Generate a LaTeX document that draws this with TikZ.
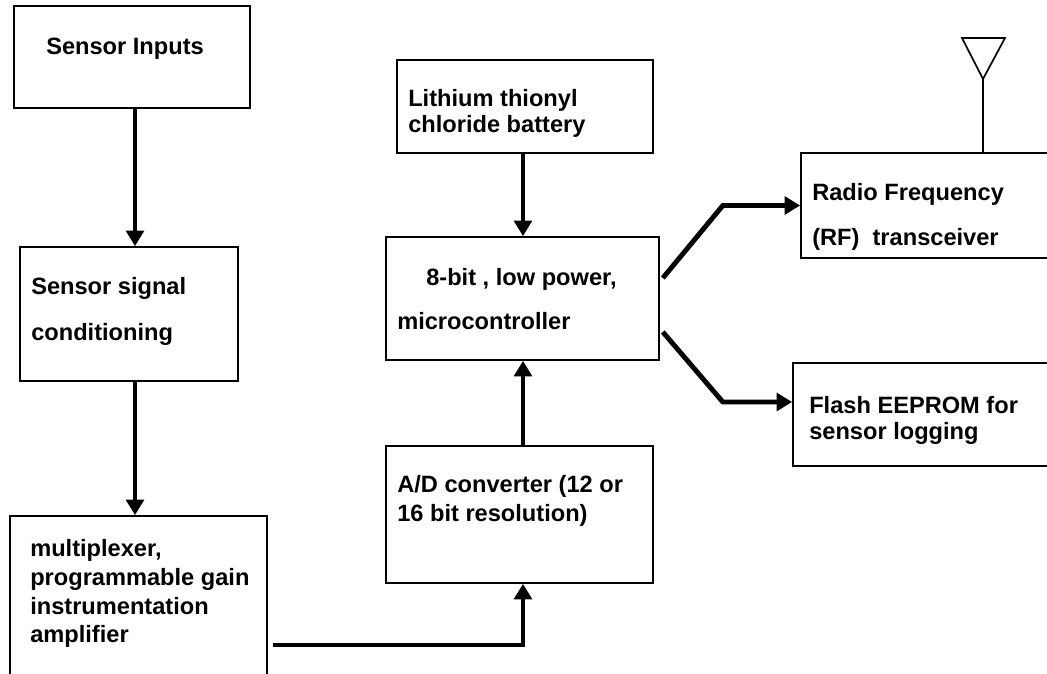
\documentclass[tikz,border=0pt]{standalone}
\usepackage{fontspec}
\setmainfont{Liberation Sans}
\usepackage{tikz}
\usetikzlibrary{arrows.meta,fit,calc}

\tikzset{
  blk/.style={draw, line width=1.2pt, inner sep=0pt},
  txt/.style={anchor=base west, align=left, inner sep=0pt, font=\bfseries},
  flow/.style={line width=3.5pt, -{Triangle[length=11pt, width=12.5pt]}},
  ant/.style={line width=1.2pt}
}

\begin{document}
\begin{tikzpicture}[x=0.025cm, y=-0.025cm]
  \fontsize{16.8pt}{19pt}\selectfont
  \useasboundingbox (0,0) rectangle (1047,674);
  \clip (0,0) rectangle (1047,674);
  \fill[white] (0,0) rectangle (1047,674);

  % ---- left column: sensor chain ----
  \node[blk, fit={(14,6) (250,108)}] (inp) {};
  \node[txt] (inp-t) at (46,55) {Sensor Inputs};
  \node[blk, fit={(20,247) (238,381)}] (cond) {};
  \node[txt] (cond-t) at (31,341) {Sensor signal\\[14.3pt]conditioning};
  \node[blk, fit={(10,516) (267,700)}] (mux) {};
  \node[txt] (mux-t) at (30,643)
    {multiplexer,\\[1.6pt]programmable gain\\[1.6pt]instrumentation\\[1.6pt]amplifier};

  % ---- middle column: power, converter, controller ----
  \node[blk, fit={(397,60) (653,153)}] (bat) {};
  \node[txt] (bat-t) at (408,133) {Lithium thionyl\\chloride battery};
  \node[blk, fit={(386,237) (659,360)}] (mcu) {};
  \node[txt] (mcu-t) at (397,330)
    {\hspace{0.725cm}8-bit , low power,\\[12.9pt]microcontroller};
  \node[blk, fit={(386,446) (653,583)}] (adc) {};
  \node[txt] (adc-t) at (397,522) {A/D converter (12 or\\[2.3pt]16 bit resolution)};

  % ---- right column: radio and storage ----
  \node[blk, fit={(801,153) (1070,258)}] (rf) {};
  \node[txt] (rf-t) at (812,246) {Radio Frequency\\[13.6pt](RF)\ \ transceiver};
  \node[blk, fit={(793,363) (1070,466)}] (flash) {};
  \node[txt] (flash-t) at (809,440) {Flash EEPROM for\\sensor logging};

  % antenna
  \coordinate (antbase) at (983,79);
  \draw[ant, line join=miter] (962,38) -- (1005,38) -- (antbase) -- cycle;
  \draw[ant] (antbase) -- (antbase |- rf.north);

  % ---- connectors ----
  \coordinate (colL) at (135,0);
  \coordinate (colM) at (523,0);
  \draw[flow] (inp.south -| colL) -- (cond.north -| colL);
  \draw[flow] (cond.south -| colL) -- (mux.north -| colL);
  \draw[flow] ([shift={(5,37)}]mux.east) -| (adc.south -| colM);
  \draw[flow] (adc.north -| colM) -- (mcu.south -| colM);
  \draw[flow] (bat.south -| colM) -- (mcu.north -| colM);
  \draw[flow] ([shift={(3,-20.5)}]mcu.east) -- ++(60,-72.5) -- (rf.west);
  \draw[flow] ([shift={(3,33.5)}]mcu.east) -- ++(60,70) coordinate (k2) -- (k2 -| flash.west);
\end{tikzpicture}
\end{document}
